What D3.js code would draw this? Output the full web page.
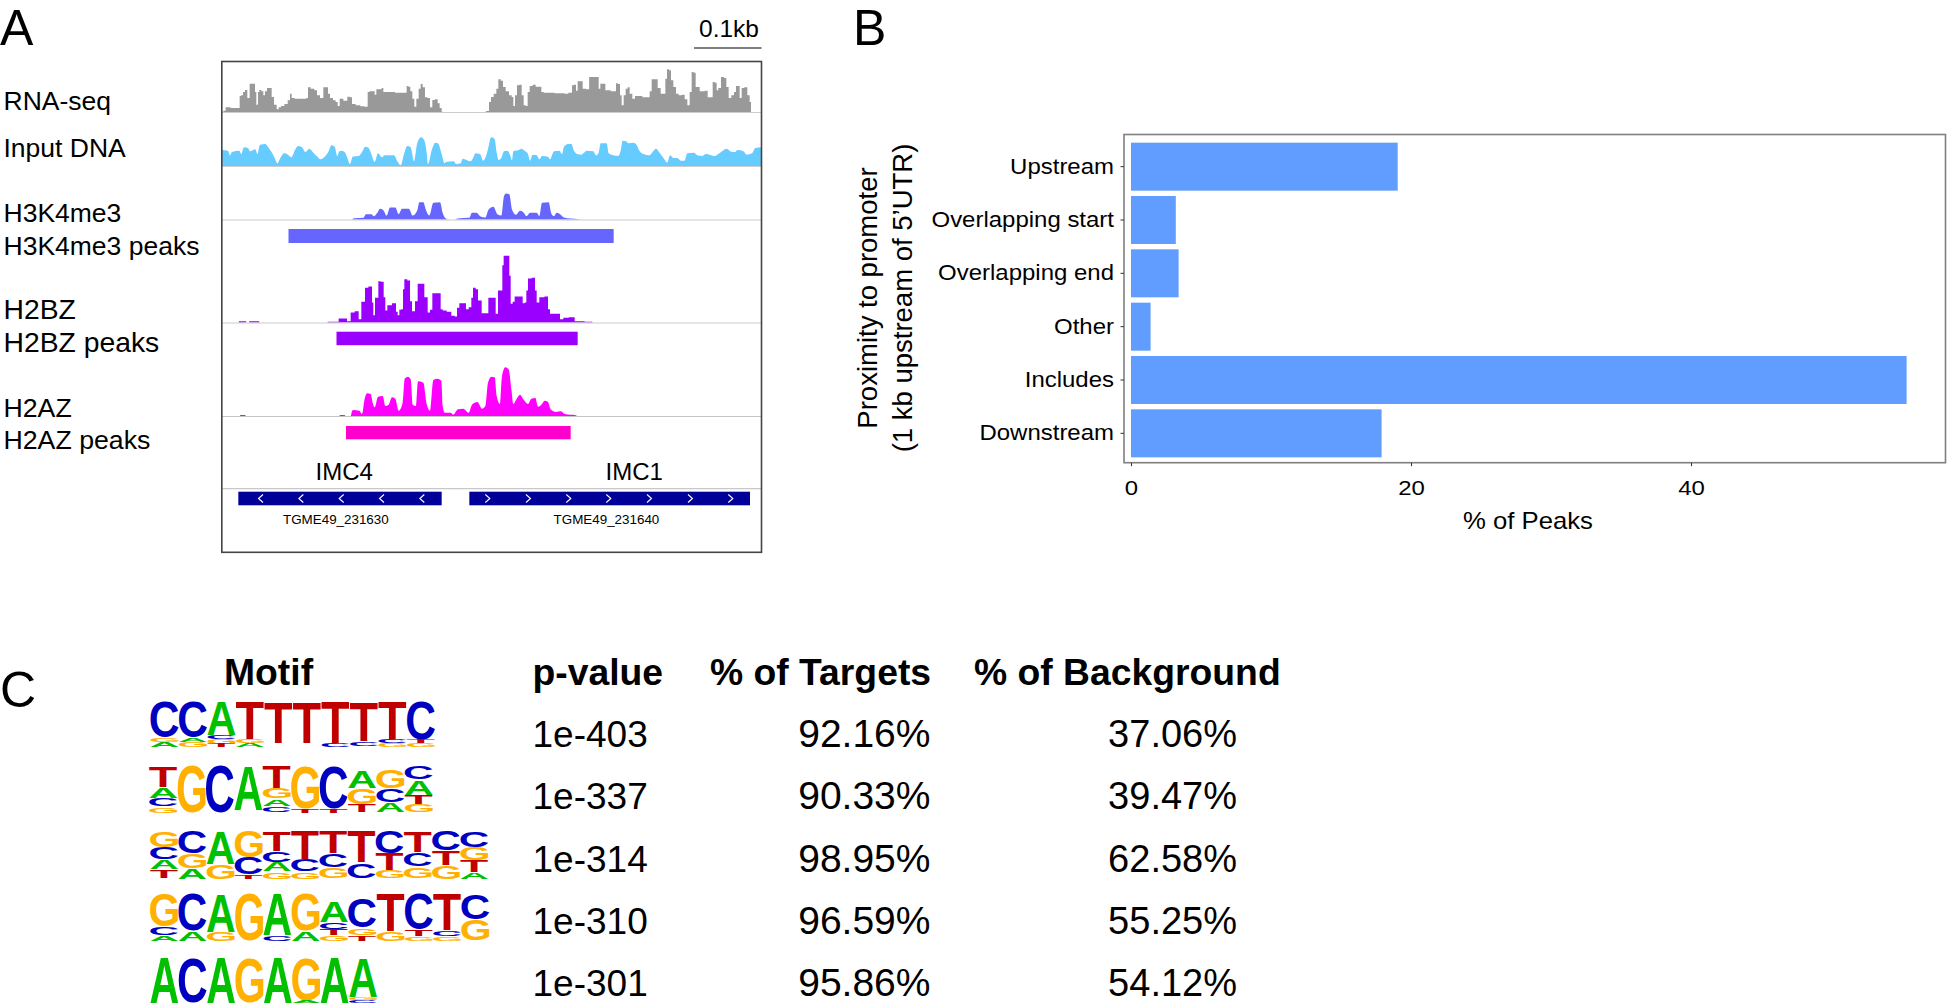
<!DOCTYPE html>
<html>
<head>
<meta charset="utf-8">
<script src="https://cdn.jsdelivr.net/npm/d3@7/dist/d3.min.js"></script>
<style>
html,body{margin:0;padding:0;background:#fff;overflow:hidden}
svg{display:block}
text{font-family:"Liberation Sans",Arial,sans-serif;fill:#000}
</style>
</head>
<body>
<svg id="chart" width="1951" height="1004"></svg>
<script>
// ---------- Panel A: coverage, [position, coverage]
const rnaLeft=[[0,0],[8,4],[14,14],[38,12],[52,12],[54,48],[60,50],[66,60],[72,66],[80,42],[86,85],[98,85],[100,60],[106,22],[110,60],[114,66],[122,62],[126,50],[132,62],[138,72],[146,72],[152,45],[160,22],[168,8],[172,14],[182,18],[192,24],[202,35],[206,55],[212,42],[224,40],[250,40],[256,42],[260,74],[272,70],[282,65],[288,50],[300,42],[308,74],[316,74],[320,55],[328,42],[338,35],[344,30],[350,18],[356,40],[372,34],[380,46],[388,44],[392,24],[410,20],[420,17],[434,16],[440,60],[444,62],[456,62],[460,52],[466,68],[476,68],[482,72],[486,60],[552,58],[556,78],[562,76],[568,62],[574,40],[580,16],[586,40],[594,70],[598,84],[606,74],[612,44],[620,42],[628,14],[634,36],[644,38],[650,26],[656,12],[662,1],[663,0],[785,0],[798,3],[804,30]];
const rnaRight=[[0,45],[10,55],[16,70],[22,98],[30,94],[36,75],[46,62],[56,50],[62,45],[66,18],[72,50],[78,80],[86,82],[92,50],[98,20],[104,18],[110,60],[116,78],[128,82],[134,76],[146,76],[150,60],[160,58],[215,56],[220,55],[238,58],[242,80],[250,82],[254,64],[260,92],[270,92],[274,70],[290,68],[293,105],[318,105],[322,70],[328,85],[338,85],[342,65],[370,62],[374,86],[382,84],[386,50],[392,20],[398,50],[404,70],[410,74],[416,55],[426,40],[432,48],[470,44],[476,62],[482,98],[494,98],[500,72],[512,55],[518,55],[522,100],[528,128],[534,125],[540,95],[548,75],[556,55],[564,50],[574,52],[582,38],[590,20],[596,60],[602,120],[608,118],[614,75],[632,62],[644,64],[650,44],[660,44],[664,90],[672,88],[676,65],[682,72],[692,105],[700,102],[706,75],[714,42],[722,50],[730,60],[734,78],[740,78],[746,42],[752,72],[762,74],[770,50],[776,30],[778,0]];
const inputLeft=[[0,48],[18,46],[24,32],[30,42],[52,46],[58,36],[66,56],[78,54],[84,44],[100,50],[106,36],[114,64],[130,66],[140,54],[150,40],[158,24],[166,8],[174,22],[186,38],[198,34],[208,26],[220,50],[228,60],[240,56],[250,42],[262,52],[274,40],[284,30],[296,20],[310,30],[320,44],[328,62],[338,58],[346,30],[352,44],[358,46],[368,42],[376,24],[384,6],[392,28],[410,30],[420,42],[430,58],[440,54],[448,36],[458,12],[468,38],[480,26],[488,32],[516,32],[526,14],[536,2],[546,36],[556,60],[566,56],[576,14],[586,70],[598,86],[608,74],[614,40],[618,6],[630,50],[640,70],[648,68],[658,40],[668,8],[672,12],[696,14],[702,6],[716,8],[722,22],[746,14],[756,30],[760,38],[774,36],[784,16],[792,30],[800,60],[806,84]];
const inputRight=[[0,86],[8,80],[14,40],[20,18],[28,24],[36,44],[46,46],[54,34],[60,18],[64,44],[80,48],[88,52],[100,44],[108,36],[114,16],[122,34],[134,32],[142,20],[150,30],[168,28],[174,20],[186,44],[202,46],[210,36],[216,58],[228,66],[238,66],[246,46],[256,36],[268,34],[274,38],[284,46],[304,44],[312,32],[320,40],[326,68],[344,68],[350,38],[364,32],[378,30],[386,46],[392,76],[402,74],[410,68],[422,70],[432,66],[442,46],[454,36],[472,32],[482,42],[492,52],[504,38],[516,22],[526,10],[534,32],[544,24],[556,24],[566,16],[578,16],[586,38],[606,40],[616,32],[630,30],[642,36],[668,30],[682,38],[704,52],[720,42],[730,42],[736,48],[754,44],[764,34],[780,38],[790,54],[808,56]];
const h3k4me3Cov=[[36,0],[42,4],[70,5],[78,16],[94,16],[102,10],[112,20],[120,32],[130,28],[140,12],[150,36],[166,36],[176,16],[186,32],[206,32],[218,12],[232,28],[238,52],[250,52],[258,28],[268,12],[280,50],[300,52],[308,20],[316,4],[328,0],[345,0],[352,3],[388,5],[396,20],[410,20],[420,10],[436,6],[446,30],[460,38],[472,16],[484,12],[492,70],[498,78],[508,76],[516,30],[528,14],[540,26],[550,22],[560,10],[570,20],[590,20],[598,10],[606,50],[626,52],[634,18],[642,10],[650,20],[660,16],[672,6],[690,3],[718,1],[720,0]];
const h2bzCov=[[-244,0],[-243,4],[-222,4],[-221,0],[-213,0],[-212,4],[-183,4],[-182,0],[22,0],[24,2],[52,2],[60,12],[74,12],[88,4],[96,30],[112,34],[120,10],[128,62],[134,62],[136,104],[154,108],[158,60],[162,22],[168,74],[174,74],[176,124],[188,122],[194,76],[198,36],[206,52],[226,58],[230,32],[236,22],[240,38],[248,40],[250,100],[256,130],[268,126],[272,64],[280,34],[290,64],[296,116],[312,116],[314,76],[320,76],[326,30],[334,38],[340,88],[360,88],[364,40],[372,36],[388,32],[400,20],[408,18],[414,44],[422,58],[436,58],[440,40],[452,46],[456,74],[462,104],[472,100],[476,66],[484,66],[486,28],[504,28],[506,74],[524,74],[530,26],[538,96],[546,96],[548,172],[554,200],[566,200],[570,140],[574,56],[582,62],[586,78],[606,78],[610,58],[618,60],[620,96],[628,132],[642,134],[648,96],[652,60],[664,76],[682,78],[686,40],[694,26],[716,26],[724,10],[736,14],[756,16],[772,4],[816,2],[818,0]];
const h2azCov=[[-240,0],[-239,3],[-224,3],[-223,0],[58,0],[60,3],[74,3],[76,0],[92,0],[96,14],[100,18],[118,16],[126,6],[134,52],[142,68],[152,66],[158,40],[164,26],[174,58],[188,60],[196,30],[206,34],[216,56],[226,52],[236,16],[248,40],[254,112],[264,118],[272,110],[278,34],[288,30],[294,104],[310,100],[320,36],[330,16],[340,108],[352,112],[364,106],[368,30],[374,10],[392,10],[400,4],[414,20],[430,22],[446,10],[456,34],[472,42],[486,22],[496,30],[504,100],[514,118],[524,116],[530,60],[540,36],[546,120],[556,146],[566,140],[574,80],[580,36],[590,52],[600,64],[610,50],[624,36],[634,52],[646,54],[654,28],[664,34],[674,46],[684,42],[692,20],[708,12],[722,14],[734,6],[768,2],[770,0]];
const trackLabels=["RNA-seq","Input DNA","H3K4me3","H3K4me3 peaks","H2BZ","H2BZ peaks","H2AZ","H2AZ peaks"];
const peakSpans=[[199.5,1175],[343.5,1067],[372,1046]]; // position units
const geneSpans=[[49,659],[742,1584]];
const geneNames=["TGME49_231630","TGME49_231640"];
const geneLabels=["IMC4","IMC1"];
const chevLeft=[117,238,359,480,601], chevRight=[796,918,1039,1159,1281,1404,1525];

// ---------- Panel B
const proximity=["Upstream","Overlapping start","Overlapping end","Other","Includes","Downstream"];
const peakPct=[19.05,3.2,3.4,1.4,55.4,17.9];
const pctTicks=[0,20,40];

// ---------- Panel C
const tableHeaders=["Motif","p-value","% of Targets","% of Background"];
const pValues=["1e-403","1e-337","1e-314","1e-310","1e-301"];
const targets=["92.16%","90.33%","98.95%","96.59%","95.86%"];
const backgrounds=["37.06%","39.47%","62.58%","55.25%","54.12%"];
// each column: letters from top to bottom with share of stack height ("" = blank)
const motif1=[[["C",.78],["G",.09],["A",.1]],[["C",.78],["A",.09],["G",.1]],[["A",.74],["C",.09],["G",.1],["T",.07]],[["T",.82],["G",.08],["A",.08]],[["T",.9]],[["T",.9]],[["T",.92],["C",.07]],[["T",.86],["C",.09]],[["T",.82],["C",.08],["G",.08]],[["C",.84],["T",.07],["G",.07]]];
const motif2=[[["T",.44],["A",.23],["C",.17],["G",.12]],[["G",1]],[["C",1]],[["A",.93]],[["T",.46],["G",.21],["A",.14],["C",.11]],[["G",.9],["T",.08]],[["C",.9],["T",.08]],[["",.08],["A",.37],["G",.33],["T",.15]],[["",.07],["G",.38],["C",.27],["A",.19]],[["C",.29],["A",.31],["T",.18],["G",.16]]];
const motif3=[[["G",.33],["C",.25],["A",.19],["T",.17]],[["C",.46],["G",.29],["A",.2]],[["A",.68],["G",.29]],[["G",.55],["C",.34],["T",.07]],[["T",.41],["C",.22],["A",.19],["G",.14]],[["T",.59],["C",.24],["G",.14]],[["T",.46],["C",.27],["G",.22]],[["T",.64],["C",.3]],[["C",.46],["T",.34],["G",.15]],[["T",.44],["C",.27],["G",.21]],[["C",.41],["T",.29],["G",.27]],[["C",.33],["G",.27],["T",.23],["A",.13]]];
const motif4=[[["G",.7],["C",.17],["A",.1]],[["C",.77],["A",.18]],[["A",.81],["G",.18]],[["G",1]],[["A",.88],["C",.11]],[["G",.77],["A",.2]],[["",.15],["A",.45],["C",.13],["T",.14],["G",.11]],[["",.09],["C",.61],["G",.15],["T",.11]],[["T",.79],["G",.19]],[["C",.76],["T",.13],["G",.09]],[["T",.77],["C",.12],["G",.09]],[["C",.53],["G",.44]]];
const motif5=[[["A",1]],[["C",1]],[["A",1]],[["G",1]],[["A",1]],[["G",.94],["A",.05]],[["A",1]],[["A",.87],["G",.06],["C",.06]]];
const motifs=[motif1,motif2,motif3,motif4,motif5];
const baseColor={A:"#00c000",C:"#0000c0",G:"#ffb000",T:"#c00000"};

const svg=d3.select("#chart");
const offset=(arr,o)=>arr.map(d=>[d[0]+o,d[1]]);

// ---------- Panel letters
svg.selectAll("text.panel").data([["A",0,45],["B",853,45],["C",0,707]]).join("text")
  .attr("class","panel").attr("x",d=>d[1]).attr("y",d=>d[2]).attr("font-size",50).text(d=>d[0]);

// ---------- Panel A
const xT=d3.scaleLinear().domain([0,1632]).range([222,766]);
const hT=d3.scaleLinear().domain([0,300]).range([0,100]);
const tracks=[
 {data:offset(rnaLeft,0).concat(offset(rnaRight,810)),base:112,col:"#999999",line:"#cccccc",curve:d3.curveStep},
 {data:offset(inputLeft,0).concat(offset(inputRight,810)),base:166,col:"#66ccff",line:"#cccccc",curve:d3.curveMonotoneX},
 {data:offset(h3k4me3Cov,354),base:219.5,col:"#6666ff",line:"#cccccc",curve:d3.curveMonotoneX},
 {data:offset(h2bzCov,294),base:322.5,col:"#9900ff",line:"#cccccc",curve:d3.curveStep},
 {data:offset(h2azCov,294),base:416,col:"#ff00ff",line:"#c4c4c4",curve:d3.curveMonotoneX}
];
const gA=svg.append("g");
tracks.forEach(t=>{
  const area=d3.area().curve(t.curve).x(d=>xT(d[0])).y0(t.base).y1(d=>t.base-hT(d[1]));
  gA.append("path").attr("d",area(t.data)).attr("fill",t.col);
  gA.append("line").attr("x1",222).attr("x2",761.5).attr("y1",t.base+.5).attr("y2",t.base+.5)
    .attr("stroke",t.line).attr("stroke-width",1.2);
});
gA.append("line").attr("x1",222).attr("x2",761.5).attr("y1",488.7).attr("y2",488.7).attr("stroke","#c8c8c8").attr("stroke-width",1.2);
[["#6666ff",229,14],["#9900ff",331.7,13.5],["#ff00cc",426,13.3]].forEach((p,i)=>{
  gA.append("rect").attr("x",xT(peakSpans[i][0])).attr("width",xT(peakSpans[i][1])-xT(peakSpans[i][0]))
    .attr("y",p[1]).attr("height",p[2]).attr("fill",p[0]);
});
geneSpans.forEach(g=>{
  gA.append("rect").attr("x",xT(g[0])).attr("width",xT(g[1])-xT(g[0])).attr("y",491.7).attr("height",13.6).attr("fill","#000099");
});
chevLeft.forEach(c=>gA.append("path").attr("d",`M${xT(c)+2},494.5L${xT(c)-2.5},498.5L${xT(c)+2},502.5`).attr("fill","none").attr("stroke","#fff").attr("stroke-width",1.1));
chevRight.forEach(c=>gA.append("path").attr("d",`M${xT(c)-2},494.5L${xT(c)+2.5},498.5L${xT(c)-2},502.5`).attr("fill","none").attr("stroke","#fff").attr("stroke-width",1.1));
gA.append("rect").attr("x",221.8).attr("y",61.5).attr("width",539.7).attr("height",490.8).attr("fill","none").attr("stroke","#444").attr("stroke-width",1.6);
[[315.5,480],[605.6,480]].forEach((p,i)=>gA.append("text").attr("x",p[0]).attr("y",p[1]).attr("font-size",24).text(geneLabels[i]));
[[283,524],[553.6,524]].forEach((p,i)=>gA.append("text").attr("x",p[0]).attr("y",p[1]).attr("font-size",13.4).text(geneNames[i]));
[[110,26.5],[157,26.5],[222,26.5],[255,26.5],[319,28.3],[352,28.3],[417,26.7],[449,26.7]].forEach((d,i)=>gA.append("text").attr("x",3.5).attr("y",d[0]).attr("font-size",d[1]).text(trackLabels[i]));
gA.append("line").attr("x1",694).attr("x2",761.5).attr("y1",48).attr("y2",48).attr("stroke","#000").attr("stroke-width",1.2);
gA.append("text").attr("x",729).attr("y",37).attr("text-anchor","middle").attr("font-size",24.5).text("0.1kb");

// ---------- Panel B
const xB=d3.scaleLinear().domain([0,40]).range([1131,1691]);
const yB=d3.scaleBand().domain(proximity).range([140,460]).paddingInner(.1).paddingOuter(.05);
const gB=svg.append("g");
gB.selectAll("rect.bar").data(proximity).join("rect").attr("class","bar")
  .attr("x",xB(0)).attr("y",d=>yB(d)).attr("height",yB.bandwidth())
  .attr("width",(d,i)=>xB(peakPct[i])-xB(0)).attr("fill","#619CFF");
gB.append("rect").attr("x",1124).attr("y",134.5).attr("width",821.5).attr("height",328.2).attr("fill","none").attr("stroke","#7f7f7f").attr("stroke-width",1.6);
const axL=gB.append("g").attr("transform","translate(1124,0)").call(d3.axisLeft(yB).tickSize(3.5).tickPadding(7));
axL.select(".domain").remove();
axL.selectAll("line").attr("stroke","#333");
axL.selectAll("text").attr("font-size",22).attr("x",null)
  .attr("dy",null).attr("y",7).attr("transform","translate(-10,0) scale(1.09,1)");
const axB=gB.append("g").attr("transform","translate(0,462.7)").call(d3.axisBottom(xB).tickValues(pctTicks).tickSize(3.5).tickPadding(10));
axB.select(".domain").remove();
axB.selectAll("line").attr("stroke","#333");
axB.selectAll("text").attr("font-size",21).attr("dy",null).attr("y",32).attr("transform","scale(1.14,1)");
gB.append("text").attr("transform","translate(1528,529) scale(1.07,1)").attr("text-anchor","middle").attr("font-size",24).text("% of Peaks");
gB.append("text").attr("transform","translate(877,298) rotate(-90)").attr("text-anchor","middle").attr("font-size",27.5).text("Proximity to promoter");
gB.append("text").attr("transform","translate(912,298) rotate(-90)").attr("text-anchor","middle").attr("font-size",27.5).text("(1 kb upstream of 5’UTR)");

// ---------- Panel C: table
const gC=svg.append("g");
const rowY=d3.scaleLinear().domain([0,4]).range([747,996]);
[224,532.5,710,974].forEach((x,i)=>gC.append("text").attr("x",x).attr("y",685).attr("font-size",37.3).attr("font-weight","bold").text(tableHeaders[i]));
pValues.forEach((t,i)=>gC.append("text").attr("x",532.5).attr("y",rowY(i)).attr("font-size",37).text(t));
targets.forEach((t,i)=>gC.append("text").attr("x",930.5).attr("y",rowY(i)).attr("text-anchor","end").attr("font-size",39).text(t));
backgrounds.forEach((t,i)=>gC.append("text").attr("x",1237).attr("y",rowY(i)).attr("text-anchor","end").attr("font-size",38).text(t));

// ---------- Panel C: logos
const ctx=document.createElement("canvas").getContext("2d");
ctx.font='bold 100px "Liberation Sans"';
const glyph={};
"ACGT".split("").forEach(l=>{const m=ctx.measureText(l);glyph[l]={left:m.actualBoundingBoxLeft,w:m.actualBoundingBoxLeft+m.actualBoundingBoxRight,asc:m.actualBoundingBoxAscent,h:m.actualBoundingBoxAscent+m.actualBoundingBoxDescent};});
const logoBoxes=[[702,747,150.2,28.5],[766,813,149,28.4],[831,879,150,28.2],[894,941,150,28.3],[958,1003,150,28.4]];
const gL=gC.append("g");
motifs.forEach((m,r)=>{
  const [top,bot,x0,cw]=logoBoxes[r];
  const yS=d3.scaleLinear().domain([0,1]).range([top,bot]);
  const xS=d3.scaleLinear().domain([0,1]).range([x0,x0+cw]);
  m.forEach((col,c)=>{
    let acc=0;
    col.forEach(([l,f],k)=>{
      if(l){
        const g=glyph[l];
        const yTop=yS(acc), hh=yS(acc+f)-yS(acc);
        const sx=(cw-.4)/g.w, sy=hh/g.h;
        gL.append("text").attr("font-size",100).attr("font-weight","bold").style("fill",baseColor[l])
          .attr("transform",`translate(${xS(c)+.2},${yTop}) scale(${sx},${sy}) translate(${g.left},${g.asc})`).text(l);
      }
      acc+=f+(k<col.length-1?(1-col.reduce((a,b)=>a+b[1],0))/Math.max(1,col.length-1)*.8:0);
    });
  });
});
</script>
</body>
</html>
